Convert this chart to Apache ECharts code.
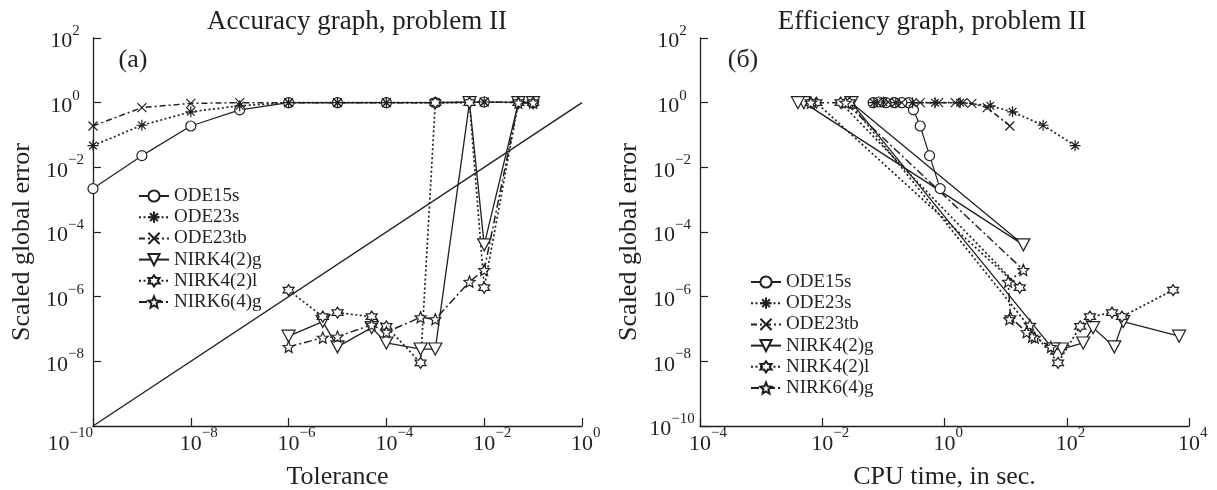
<!DOCTYPE html>
<html>
<head>
<meta charset="utf-8">
<script src="https://cdn.jsdelivr.net/npm/echarts@6/dist/echarts.min.js"></script>
<style>
  html, body { margin: 0; background: #fff; }
  #chart { width: 1217px; height: 490px; }
</style>
</head>
<body>
<div id="chart"></div>
<script>
// tolerances used by the solvers
const odeTol = [1e-10, 1e-9, 1e-8, 1e-7, 1e-6, 1e-5, 1e-4, 1e-3, 1e-2, 1e-1];
const nirkTol = [1e-6, 5e-6, 1e-5, 5e-5, 1e-4, 5e-4, 1e-3, 5e-3, 1e-2, 5e-2, 1e-1];

const ode15sErr = [2.2e-3, 0.023, 0.19, 0.6, 1, 1, 1, 1, 1.05, 1];
const ode23sErr = [0.047, 0.2, 0.52, 0.8, 1, 1, 1, 1, 1.05, 1];
const ode23tbErr = [0.19, 0.7, 0.95, 1, 1, 1, 1, 1, 1.05, 1];
const nirk42gErr = [6e-8, 1.7e-7, 2.8e-8, 1.1e-7, 3.7e-8, 2.4e-8, 2.4e-8, 1, 4e-5, 1, 1];
const nirk42lErr = [1.6e-6, 2.4e-7, 3.2e-7, 2.4e-7, 1.2e-7, 9e-9, 1, 1, 1.9e-6, 1, 1];
const nirk64gErr = [2.8e-8, 5.4e-8, 5.8e-8, 1.35e-7, 8e-8, 2.3e-7, 2e-7, 2.9e-6, 6.7e-6, 1, 1];

const ode15sTime = [0.85, 0.57, 0.4, 0.31, 0.26, 0.2, 0.15, 0.11, 0.085, 0.068];
const ode23sTime = [137, 41, 13, 5.6, 1.8, 0.7, 0.3, 0.16, 0.1, 0.07];
const ode23tbTime = [11.7, 5, 2.8, 2.0, 1.5, 0.8, 0.4, 0.2, 0.12, 0.08];
const nirk42gTime = [6900, 840, 600, 270, 186, 83, 60, 0.03, 19.5, 0.005, 0.004];
const nirk42lTime = [5500, 800, 550, 240, 166, 72, 0.028, 0.02, 17, 0.008, 0.0065];
const nirk64gTime = [55, 30, 27, 25, 22, 12, 11.5, 11, 19.5, 0.024, 0.0065];

const names = ['ODE15s', 'ODE23s', 'ODE23tb', 'NIRK4(2)g', 'NIRK4(2)l', 'NIRK6(4)g'];
const diagonal = [1e-10, 1];

const ink = '#231f20';
const serif = "'Liberation Serif', 'DejaVu Serif', serif";

function starPath(n, inner) {
  let d = '';
  for (let i = 0; i < 2 * n; i++) {
    const r = i % 2 ? inner : 1;
    const a = -Math.PI / 2 + i * Math.PI / n;
    d += (i ? 'L' : 'M') + (r * Math.cos(a) * 10).toFixed(2) + ',' + (r * Math.sin(a) * 10).toFixed(2);
  }
  return 'path://' + d + 'Z';
}

// marker and line look of each method
const looks = {
  'ODE15s': { symbol: 'circle', size: 10, dash: 'solid', width: 1.2 },
  'ODE23s': { symbol: 'path://M0,-10L0,10M-10,0L10,0M-7,-7L7,7M-7,7L7,-7', size: 11, dash: [2, 2.5], width: 1.7 },
  'ODE23tb': { symbol: 'path://M-10,-10L10,10M-10,10L10,-10', size: 9, dash: [6, 3, 2, 3], width: 1.5 },
  'NIRK4(2)g': { symbol: 'triangle', size: [13, 12], rotate: 180, dash: 'solid', width: 1.3 },
  'NIRK4(2)l': { symbol: starPath(6, 0.577), size: 11, dash: [2, 2.5], width: 1.7 },
  'NIRK6(4)g': { symbol: starPath(5, 0.45), size: 11, dash: [8, 3, 2, 3], width: 1.5 }
};

function zip(xs, ys) {
  return xs.map((x, i) => [x, ys[i]]);
}

function line(name, xs, ys, idx) {
  const l = looks[name];
  return {
    name: name,
    type: 'line',
    xAxisIndex: idx,
    yAxisIndex: idx,
    data: zip(xs, ys),
    symbol: l.symbol,
    symbolSize: l.size,
    symbolRotate: l.rotate || 0,
    clip: false,
    color: ink,
    itemStyle: { color: '#fff', borderColor: ink, borderWidth: 1.2 },
    lineStyle: { color: ink, width: l.width, type: l.dash }
  };
}

function expOf(v) {
  return String(Math.round(Math.log10(v))).replace('-', '\u2212');
}

// y labels: plain "10" with superscript
function yLabel(v) {
  return '{b|10}{s|' + expOf(v) + '}';
}

// x labels: keep "10" over the tick, the lowest one pushed left of the axis corner
function xLabel(v) {
  const e = expOf(v);
  if (e === '\u221210') return '{b|10}{s|' + e + '}{hb|10}{hs|' + e + '}';
  return '{hs|' + e + '}{b|10}{s|' + e + '}';
}

const labelRich = {
  b: { fontFamily: serif, fontSize: 22, color: ink, lineHeight: 29, verticalAlign: 'bottom' },
  s: { fontFamily: serif, fontSize: 15, color: ink, lineHeight: 21, verticalAlign: 'top' },
  hb: { fontFamily: serif, fontSize: 22, color: 'transparent', lineHeight: 29, verticalAlign: 'bottom' },
  hs: { fontFamily: serif, fontSize: 15, color: 'transparent', lineHeight: 21, verticalAlign: 'top' }
};

function logAxis(idx, min, max, name, isY, hideMin) {
  return {
    type: 'log',
    logBase: 10,
    gridIndex: idx,
    min: min,
    max: max,
    interval: 2,
    name: name,
    nameLocation: 'middle',
    nameGap: isY ? 58 : 38,
    nameTextStyle: { fontFamily: serif, fontSize: 26, color: ink, padding: isY ? [0, 20, 0, 0] : 0 },
    axisLine: { show: true, lineStyle: { color: ink, width: 1.3 } },
    axisTick: { show: true, inside: true, length: 8, lineStyle: { color: ink, width: 1.2 } },
    minorTick: { show: false },
    splitLine: { show: false },
    axisLabel: isY
      ? { formatter: yLabel, rich: labelRich, align: 'center', margin: 28, showMinLabel: !hideMin }
      : { formatter: xLabel, rich: labelRich, margin: 0 }
  };
}

const series = [];
const errs = [ode15sErr, ode23sErr, ode23tbErr, nirk42gErr, nirk42lErr, nirk64gErr];
const times = [ode15sTime, ode23sTime, ode23tbTime, nirk42gTime, nirk42lTime, nirk64gTime];
names.forEach((n, i) => {
  series.push(line(n, i < 3 ? odeTol : nirkTol, errs[i], 0));
});
names.forEach((n, i) => {
  series.push(line(n, times[i], errs[i], 1));
});
series.push({
  type: 'line',
  xAxisIndex: 0,
  yAxisIndex: 0,
  data: zip(diagonal, diagonal),
  symbol: 'none',
  silent: true,
  lineStyle: { color: ink, width: 1.4 }
});

function legendAt(left, top) {
  return {
    orient: 'vertical',
    left: left,
    top: top,
    data: names,
    itemWidth: 30,
    itemHeight: 14,
    itemGap: 1.2,
    textStyle: { fontFamily: serif, fontSize: 19, color: ink, lineHeight: 20 }
  };
}

function text(x, y, s, size) {
  return {
    type: 'text',
    x: x,
    y: y,
    style: { text: s, fontFamily: serif, fontSize: size, fill: ink, align: 'center', verticalAlign: 'middle' }
  };
}

const chart = echarts.init(document.getElementById('chart'));
chart.setOption({
  animation: false,
  backgroundColor: '#fff',
  grid: [
    { left: 93, top: 38, width: 489, height: 388, containLabel: false, outerBoundsMode: 'none' },
    { left: 700, top: 38, width: 489, height: 388, containLabel: false, outerBoundsMode: 'none' }
  ],
  xAxis: [
    logAxis(0, 1e-10, 1, 'Tolerance', false),
    logAxis(1, 1e-4, 1e4, 'CPU time, in sec.', false)
  ],
  yAxis: [
    logAxis(0, 1e-10, 1e2, 'Scaled global error', true, true),
    logAxis(1, 1e-10, 1e2, 'Scaled global error', true, false)
  ],
  legend: [legendAt(133, 181), legendAt(745, 267)],
  graphic: [
    text(357, 22, 'Accuracy graph, problem II', 27),
    text(932, 22, 'Efficiency graph, problem II', 27),
    text(133, 60, '(a)', 26),
    text(743, 60, '(б)', 26)
  ],
  series: series
});
</script>
</body>
</html>
